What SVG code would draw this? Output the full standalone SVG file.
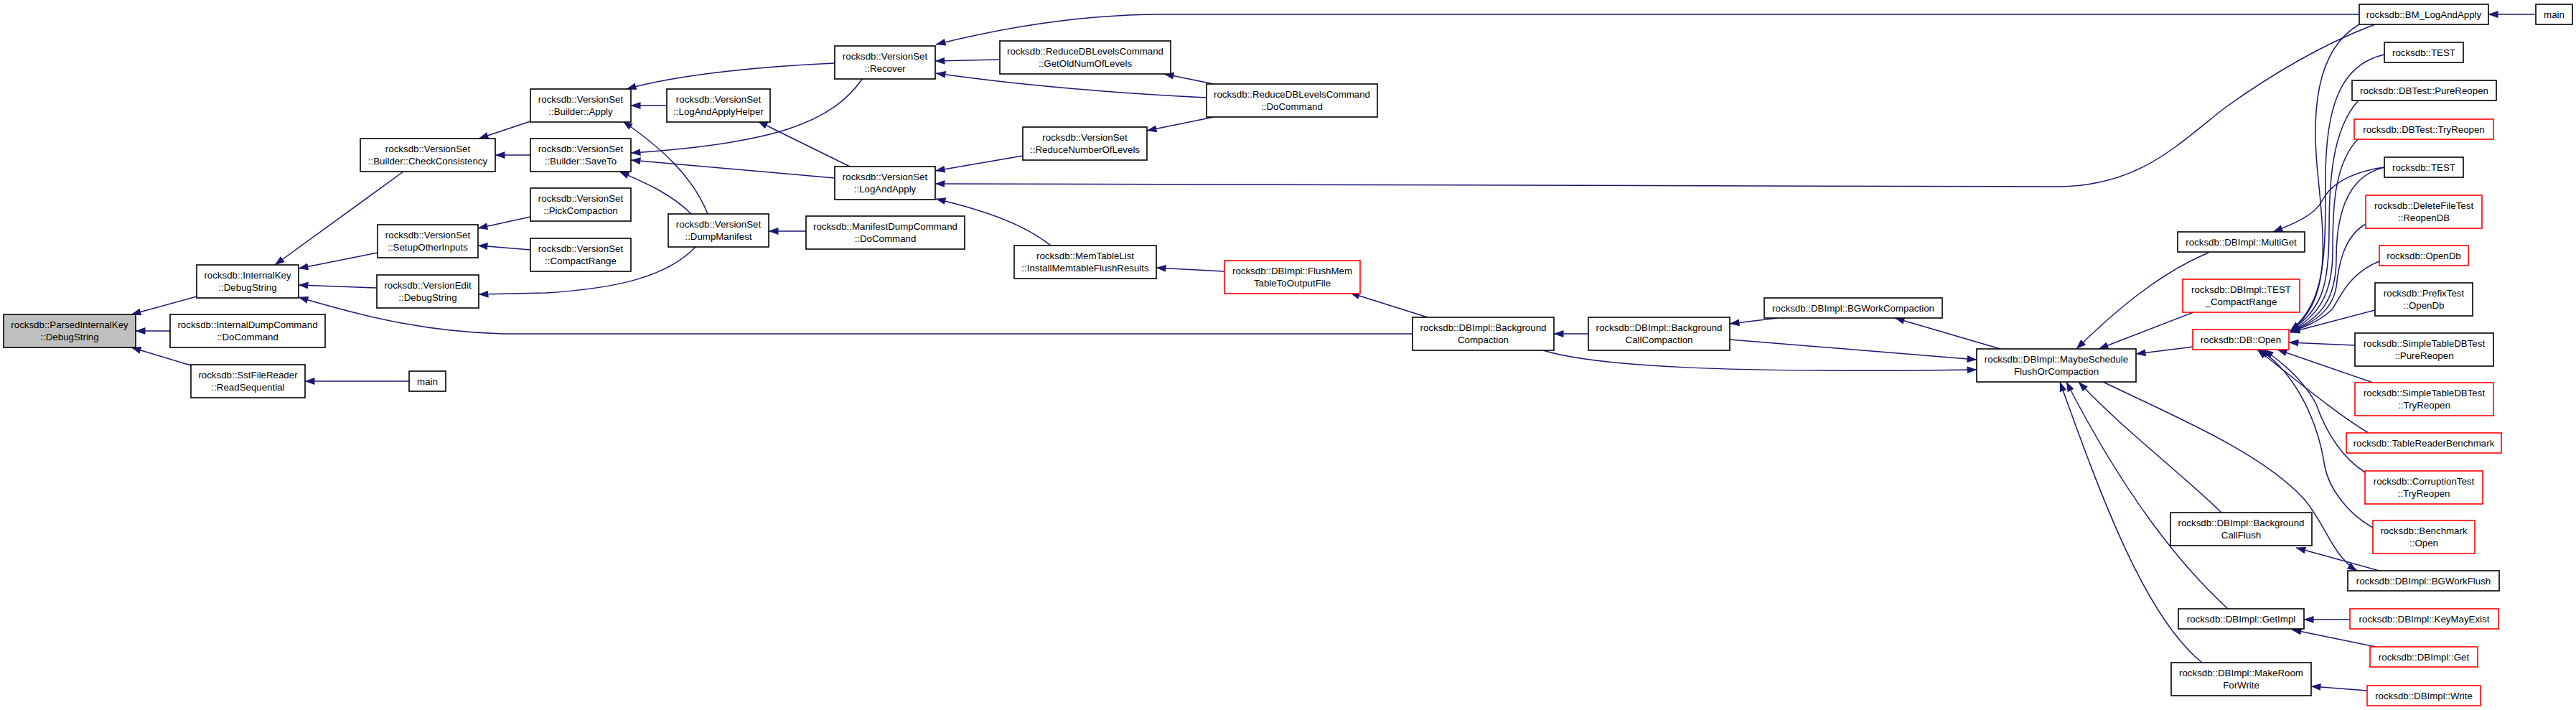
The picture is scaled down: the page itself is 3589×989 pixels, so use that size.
<svg xmlns="http://www.w3.org/2000/svg" width="3589" height="989" viewBox="0 0 3589 989">
<style>
.n rect{fill:#fff;stroke:#000;stroke-width:1.6}
.n.r rect{stroke:#f00}
.n.root rect{fill:#bfbfbf}
text{font-family:"Liberation Sans",Arial,Helvetica,sans-serif;font-size:13.3px;text-anchor:middle;fill:#000}
#edges path{fill:none;stroke:#191970;stroke-width:1.5;marker-end:url(#a)}
</style>
<defs>
<marker id="a" markerUnits="userSpaceOnUse" viewBox="0 0 14 10" markerWidth="14" markerHeight="10" refX="13.5" refY="5" orient="auto">
<path d="M0,0 L14,5 L0,10 z" fill="#191970"/>
</marker>
</defs>
<rect width="3589" height="989" fill="#fff"/>
<g id="edges">
<path d="M274,413 L183,438"/>
<path d="M237,461 L189,461"/>
<path d="M266,509 L183,484"/>
<path d="M570,531 L425,531"/>
<path d="M562,239 L383,369"/>
<path d="M526,352 L416,374"/>
<path d="M525,401 L416,397"/>
<path d="M1968,465 L700,465 C600,462 520,445 416,414"/>
<path d="M739,169 L667,193"/>
<path d="M739,216 L690,216"/>
<path d="M739,302 L666,318"/>
<path d="M739,348 L666,342"/>
<path d="M969,344 C930,385 860,402 760,408 L667,410"/>
<path d="M1163,88 C1050,93 940,105 873,124"/>
<path d="M929,147 L879,147"/>
<path d="M986,298 C965,245 920,205 868,169"/>
<path d="M1202,109 C1160,170 1080,200 879,213"/>
<path d="M1163,248 L879,223"/>
<path d="M963,298 C935,270 900,255 863,239"/>
<path d="M1184,232 L1056,169"/>
<path d="M1123,322 L1071,322"/>
<path d="M3287,20 L1620,20 C1510,20 1400,38 1304,62"/>
<path d="M1393,83 L1303,85"/>
<path d="M1681,136 C1560,130 1430,120 1304,102"/>
<path d="M1691,117 L1622,103"/>
<path d="M1691,163 L1598,182"/>
<path d="M1425,217 L1303,238"/>
<path d="M3309,34 C3240,60 3170,100 3100,150 C3030,205 2980,258 2870,260 L1303,256"/>
<path d="M1464,342 C1430,315 1380,295 1304,277"/>
<path d="M1706,378 L1611,373"/>
<path d="M1989,442 L1881,408"/>
<path d="M2213,465 L2165,465"/>
<path d="M2477,443 L2410,451"/>
<path d="M2410,473 L2754,501"/>
<path d="M2150,488 C2220,510 2400,520 2754,515"/>
<path d="M2787,486 L2640,443"/>
<path d="M3077,352 C3010,380 2950,430 2893,486"/>
<path d="M3056,435 L2924,486"/>
<path d="M3055,483 L2976,493"/>
<path d="M3095,714 C3040,660 2960,600 2896,532"/>
<path d="M3104,848 C3040,790 2960,690 2879,532"/>
<path d="M3068,923 C2990,860 2930,700 2870,532"/>
<path d="M2930,532 C3030,580 3150,630 3210,695 C3240,730 3250,775 3284,795"/>
<path d="M3315,795 L3199,763"/>
<path d="M3274,863 L3210,863"/>
<path d="M3310,901 L3193,877"/>
<path d="M3298,962 L3220,956"/>
<path d="M3533,20 L3467,20"/>
<path d="M3322,233 C3270,240 3245,260 3235,280 C3225,300 3195,312 3167,323"/>
<path d="M3287,34 C3225,70 3220,160 3230,250 C3240,350 3245,420 3191,461"/>
<path d="M3322,76 C3260,90 3240,150 3240,250 C3240,360 3240,420 3191,461"/>
<path d="M3285,141 C3250,180 3245,250 3245,320 C3245,400 3235,430 3191,461"/>
<path d="M3285,194 C3250,230 3250,300 3250,350 C3250,410 3230,440 3191,462"/>
<path d="M3322,233 C3270,245 3255,300 3255,360 C3255,420 3230,445 3191,462"/>
<path d="M3296,312 C3265,330 3258,370 3255,400 C3250,430 3225,450 3191,462"/>
<path d="M3315,364 C3275,380 3262,410 3250,430 C3235,445 3215,455 3191,462"/>
<path d="M3309,432 L3191,463"/>
<path d="M3281,481 L3189,477"/>
<path d="M3306,533 L3173,487"/>
<path d="M3300,603 C3260,580 3200,530 3145,487"/>
<path d="M3295,658 C3260,635 3240,600 3227,563 C3210,530 3180,505 3154,487"/>
<path d="M3306,735 C3270,715 3245,680 3239,650 C3230,590 3200,520 3148,487"/>
</g>
<g id="n1" class="n root"><rect x="5" y="438" width="184" height="46"/><text x="97" y="457.2">rocksdb::ParsedInternalKey</text><text x="97" y="474.2">::DebugString</text></g>
<g id="n2" class="n"><rect x="274" y="369" width="142" height="46"/><text x="345" y="388.2">rocksdb::InternalKey</text><text x="345" y="405.2">::DebugString</text></g>
<g id="n3" class="n"><rect x="237" y="438" width="216" height="46"/><text x="345" y="457.2">rocksdb::InternalDumpCommand</text><text x="345" y="474.2">::DoCommand</text></g>
<g id="n4" class="n"><rect x="266" y="508" width="159" height="46"/><text x="345.5" y="527.2">rocksdb::SstFileReader</text><text x="345.5" y="544.2">::ReadSequential</text></g>
<g id="n5" class="n"><rect x="570" y="517" width="51" height="28"/><text x="595.5" y="535.7">main</text></g>
<g id="n6" class="n"><rect x="502" y="193" width="188" height="46"/><text x="596" y="212.2">rocksdb::VersionSet</text><text x="596" y="229.2">::Builder::CheckConsistency</text></g>
<g id="n7" class="n"><rect x="526" y="313" width="140" height="46"/><text x="596" y="332.2">rocksdb::VersionSet</text><text x="596" y="349.2">::SetupOtherInputs</text></g>
<g id="n8" class="n"><rect x="525" y="383" width="142" height="46"/><text x="596" y="402.2">rocksdb::VersionEdit</text><text x="596" y="419.2">::DebugString</text></g>
<g id="n9" class="n"><rect x="739" y="124" width="140" height="46"/><text x="809" y="143.2">rocksdb::VersionSet</text><text x="809" y="160.2">::Builder::Apply</text></g>
<g id="n10" class="n"><rect x="739" y="193" width="140" height="46"/><text x="809" y="212.2">rocksdb::VersionSet</text><text x="809" y="229.2">::Builder::SaveTo</text></g>
<g id="n11" class="n"><rect x="739" y="262" width="140" height="46"/><text x="809" y="281.2">rocksdb::VersionSet</text><text x="809" y="298.2">::PickCompaction</text></g>
<g id="n12" class="n"><rect x="739" y="332" width="140" height="46"/><text x="809" y="351.2">rocksdb::VersionSet</text><text x="809" y="368.2">::CompactRange</text></g>
<g id="n13" class="n"><rect x="929" y="124" width="144" height="46"/><text x="1001" y="143.2">rocksdb::VersionSet</text><text x="1001" y="160.2">::LogAndApplyHelper</text></g>
<g id="n14" class="n"><rect x="931" y="298" width="140" height="46"/><text x="1001" y="317.2">rocksdb::VersionSet</text><text x="1001" y="334.2">::DumpManifest</text></g>
<g id="n15" class="n"><rect x="1163" y="64" width="140" height="46"/><text x="1233" y="83.2">rocksdb::VersionSet</text><text x="1233" y="100.2">::Recover</text></g>
<g id="n16" class="n"><rect x="1163" y="232" width="140" height="46"/><text x="1233" y="251.2">rocksdb::VersionSet</text><text x="1233" y="268.2">::LogAndApply</text></g>
<g id="n17" class="n"><rect x="1123" y="301" width="221" height="46"/><text x="1233.5" y="320.2">rocksdb::ManifestDumpCommand</text><text x="1233.5" y="337.2">::DoCommand</text></g>
<g id="n18" class="n"><rect x="1393" y="57" width="238" height="46"/><text x="1512" y="76.2">rocksdb::ReduceDBLevelsCommand</text><text x="1512" y="93.2">::GetOldNumOfLevels</text></g>
<g id="n19" class="n"><rect x="1681" y="117" width="238" height="46"/><text x="1800" y="136.2">rocksdb::ReduceDBLevelsCommand</text><text x="1800" y="153.2">::DoCommand</text></g>
<g id="n20" class="n"><rect x="1425" y="177" width="173" height="46"/><text x="1511.5" y="196.2">rocksdb::VersionSet</text><text x="1511.5" y="213.2">::ReduceNumberOfLevels</text></g>
<g id="n21" class="n"><rect x="1413" y="342" width="198" height="46"/><text x="1512" y="361.2">rocksdb::MemTableList</text><text x="1512" y="378.2">::InstallMemtableFlushResults</text></g>
<g id="n22" class="n r"><rect x="1706" y="363" width="189" height="46"/><text x="1800.5" y="382.2">rocksdb::DBImpl::FlushMem</text><text x="1800.5" y="399.2">TableToOutputFile</text></g>
<g id="n23" class="n"><rect x="1968" y="442" width="197" height="46"/><text x="2066.5" y="461.2">rocksdb::DBImpl::Background</text><text x="2066.5" y="478.2">Compaction</text></g>
<g id="n24" class="n"><rect x="2213" y="442" width="197" height="46"/><text x="2311.5" y="461.2">rocksdb::DBImpl::Background</text><text x="2311.5" y="478.2">CallCompaction</text></g>
<g id="n25" class="n"><rect x="2458" y="415" width="248" height="28"/><text x="2582" y="433.7">rocksdb::DBImpl::BGWorkCompaction</text></g>
<g id="n26" class="n"><rect x="2754" y="486" width="222" height="46"/><text x="2865" y="505.2">rocksdb::DBImpl::MaybeSchedule</text><text x="2865" y="522.2">FlushOrCompaction</text></g>
<g id="n27" class="n"><rect x="3034" y="323" width="177" height="28"/><text x="3122.5" y="341.7">rocksdb::DBImpl::MultiGet</text></g>
<g id="n28" class="n r"><rect x="3041" y="389" width="163" height="46"/><text x="3122.5" y="408.2">rocksdb::DBImpl::TEST</text><text x="3122.5" y="425.2">_CompactRange</text></g>
<g id="n29" class="n r"><rect x="3055" y="459" width="134" height="28"/><text x="3122" y="477.7">rocksdb::DB::Open</text></g>
<g id="n30" class="n"><rect x="3024" y="714" width="197" height="46"/><text x="3122.5" y="733.2">rocksdb::DBImpl::Background</text><text x="3122.5" y="750.2">CallFlush</text></g>
<g id="n31" class="n"><rect x="3035" y="848" width="175" height="28"/><text x="3122.5" y="866.7">rocksdb::DBImpl::GetImpl</text></g>
<g id="n32" class="n"><rect x="3025" y="923" width="195" height="46"/><text x="3122.5" y="942.2">rocksdb::DBImpl::MakeRoom</text><text x="3122.5" y="959.2">ForWrite</text></g>
<g id="n33" class="n"><rect x="3287" y="6" width="180" height="28"/><text x="3377" y="24.7">rocksdb::BM_LogAndApply</text></g>
<g id="n34" class="n"><rect x="3533" y="6" width="51" height="28"/><text x="3558.5" y="24.7">main</text></g>
<g id="n35" class="n"><rect x="3322" y="59" width="110" height="28"/><text x="3377" y="77.7">rocksdb::TEST</text></g>
<g id="n36" class="n"><rect x="3277" y="112" width="201" height="28"/><text x="3377.5" y="130.7">rocksdb::DBTest::PureReopen</text></g>
<g id="n37" class="n r"><rect x="3280" y="166" width="194" height="28"/><text x="3377" y="184.7">rocksdb::DBTest::TryReopen</text></g>
<g id="n38" class="n"><rect x="3322" y="219" width="110" height="28"/><text x="3377" y="237.7">rocksdb::TEST</text></g>
<g id="n39" class="n r"><rect x="3296" y="272" width="162" height="46"/><text x="3377" y="291.2">rocksdb::DeleteFileTest</text><text x="3377" y="308.2">::ReopenDB</text></g>
<g id="n40" class="n r"><rect x="3315" y="342" width="124" height="28"/><text x="3377" y="360.7">rocksdb::OpenDb</text></g>
<g id="n41" class="n"><rect x="3309" y="394" width="136" height="46"/><text x="3377" y="413.2">rocksdb::PrefixTest</text><text x="3377" y="430.2">::OpenDb</text></g>
<g id="n42" class="n"><rect x="3281" y="464" width="193" height="46"/><text x="3377.5" y="483.2">rocksdb::SimpleTableDBTest</text><text x="3377.5" y="500.2">::PureReopen</text></g>
<g id="n43" class="n r"><rect x="3281" y="533" width="193" height="46"/><text x="3377.5" y="552.2">rocksdb::SimpleTableDBTest</text><text x="3377.5" y="569.2">::TryReopen</text></g>
<g id="n44" class="n r"><rect x="3269" y="603" width="216" height="28"/><text x="3377" y="621.7">rocksdb::TableReaderBenchmark</text></g>
<g id="n45" class="n r"><rect x="3295" y="656" width="164" height="46"/><text x="3377" y="675.2">rocksdb::CorruptionTest</text><text x="3377" y="692.2">::TryReopen</text></g>
<g id="n46" class="n r"><rect x="3306" y="725" width="142" height="46"/><text x="3377" y="744.2">rocksdb::Benchmark</text><text x="3377" y="761.2">::Open</text></g>
<g id="n47" class="n"><rect x="3271" y="795" width="211" height="28"/><text x="3376.5" y="813.7">rocksdb::DBImpl::BGWorkFlush</text></g>
<g id="n48" class="n r"><rect x="3274" y="848" width="207" height="28"/><text x="3377.5" y="866.7">rocksdb::DBImpl::KeyMayExist</text></g>
<g id="n49" class="n r"><rect x="3302" y="901" width="150" height="28"/><text x="3377" y="919.7">rocksdb::DBImpl::Get</text></g>
<g id="n50" class="n r"><rect x="3298" y="955" width="158" height="28"/><text x="3377" y="973.7">rocksdb::DBImpl::Write</text></g>
</svg>
